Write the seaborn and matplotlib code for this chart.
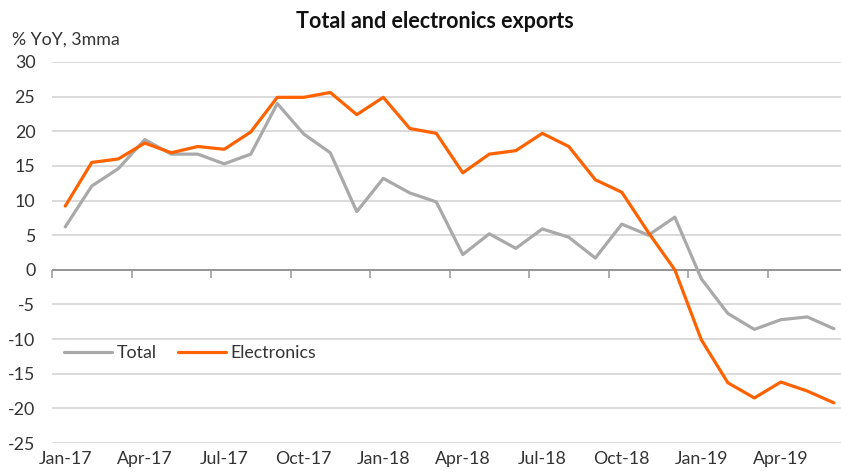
import matplotlib
matplotlib.use("Agg")
import matplotlib.pyplot as plt
import seaborn as sns
import pandas as pd
import numpy as np

months = ["Jan-17", "Feb-17", "Mar-17", "Apr-17", "May-17", "Jun-17", "Jul-17", "Aug-17", "Sep-17",
          "Oct-17", "Nov-17", "Dec-17", "Jan-18", "Feb-18", "Mar-18", "Apr-18", "May-18", "Jun-18",
          "Jul-18", "Aug-18", "Sep-18", "Oct-18", "Nov-18", "Dec-18", "Jan-19", "Feb-19", "Mar-19",
          "Apr-19", "May-19", "Jun-19"]
total = [6.2, 12.1, 14.6, 18.8, 16.7, 16.7, 15.3, 16.7, 24.0, 19.6, 16.9, 8.4, 13.2, 11.1, 9.8,
         2.2, 5.2, 3.1, 5.9, 4.7, 1.7, 6.6, 5.0, 7.6, -1.3, -6.3, -8.6, -7.2, -6.8, -8.5]
electronics = [9.2, 15.5, 16.0, 18.3, 16.9, 17.8, 17.4, 19.9, 24.9, 24.9, 25.6, 22.4, 24.9, 20.4,
               19.7, 14.0, 16.7, 17.2, 19.7, 17.8, 13.0, 11.2, 5.4, 0.0, -10.1, -16.3, -18.5,
               -16.2, -17.5, -19.2]
series_names = ["Total", "Electronics"]
yticks = [30, 25, 20, 15, 10, 5, 0, -5, -10, -15, -20, -25]

sns.set_theme(style="white")
plt.rcParams['font.family'] = ['Lato', 'DejaVu Sans']

n = len(months)
df = pd.DataFrame({
    "idx": list(range(n)) * 2,
    "value": total + electronics,
    "series": [series_names[0]] * n + [series_names[1]] * n,
})

fig = plt.figure(figsize=(8.41, 4.76), dpi=100)
ax = fig.add_axes([52 / 841, 1 - 443 / 476, 1 - 52 / 841, (443 - 62) / 476])

sns.lineplot(data=df, x="idx", y="value", hue="series",
             palette={"Total": "#A9A9A9", "Electronics": "#FF6200"},
             linewidth=2.3, ax=ax, legend=True)

ax.set_xlim(-0.5, 29.27)
ax.set_ylim(-25, 30)
ax.set_yticks(yticks)
ax.set_yticklabels([str(v) for v in yticks])
ax.yaxis.grid(True, color="#D4D4D4", linewidth=1.2)
ax.set_axisbelow(True)
for s in ax.spines.values():
    s.set_visible(False)
ax.set_xlabel("")
ax.set_ylabel("")
ax.tick_params(axis="y", length=0, labelsize=12.8, labelcolor="#333333", pad=12)

# labels at category centres every 3 months
lab_pos = list(range(0, n, 3))
ax.set_xticks(lab_pos)
ax.set_xticklabels([months[i] for i in lab_pos])
ax.tick_params(axis="x", length=0, labelsize=12.8, labelcolor="#333333", pad=6)

# zero line with tick marks at category boundaries
ax.axhline(0, color="#8A8A8A", linewidth=1.2, zorder=1.5)
sec = ax.secondary_xaxis(25 / 55)
sec.set_xticks([p - 0.5 for p in lab_pos])
sec.set_xticklabels([])
sec.tick_params(axis="x", direction="out", length=6, width=1.2, color="#A0A0A0")
sec.spines["bottom"].set_visible(False)
sec.spines["top"].set_visible(False)

leg = ax.legend(loc="center left", bbox_to_anchor=(0.0, 1 - (353 - 62) / (443 - 62)),
                ncol=2, frameon=False, fontsize=12.8, handlelength=2.7, handletextpad=0.25,
                columnspacing=1.2, borderaxespad=0.3)
for line in leg.get_lines():
    line.set_linewidth(2.3)
for t in leg.get_texts():
    t.set_color("#333333")

fig.text(12 / 841, 1 - 40 / 476, "% YoY, 3mma", fontsize=12.8, color="#333333", va="center", ha="left")
fig.text(435 / 841, 1 - 22 / 476, "Total and electronics exports", fontsize=15.5, fontweight="bold",
         color="#111111", ha="center", va="center")

fig.savefig("out.png", dpi=100)
